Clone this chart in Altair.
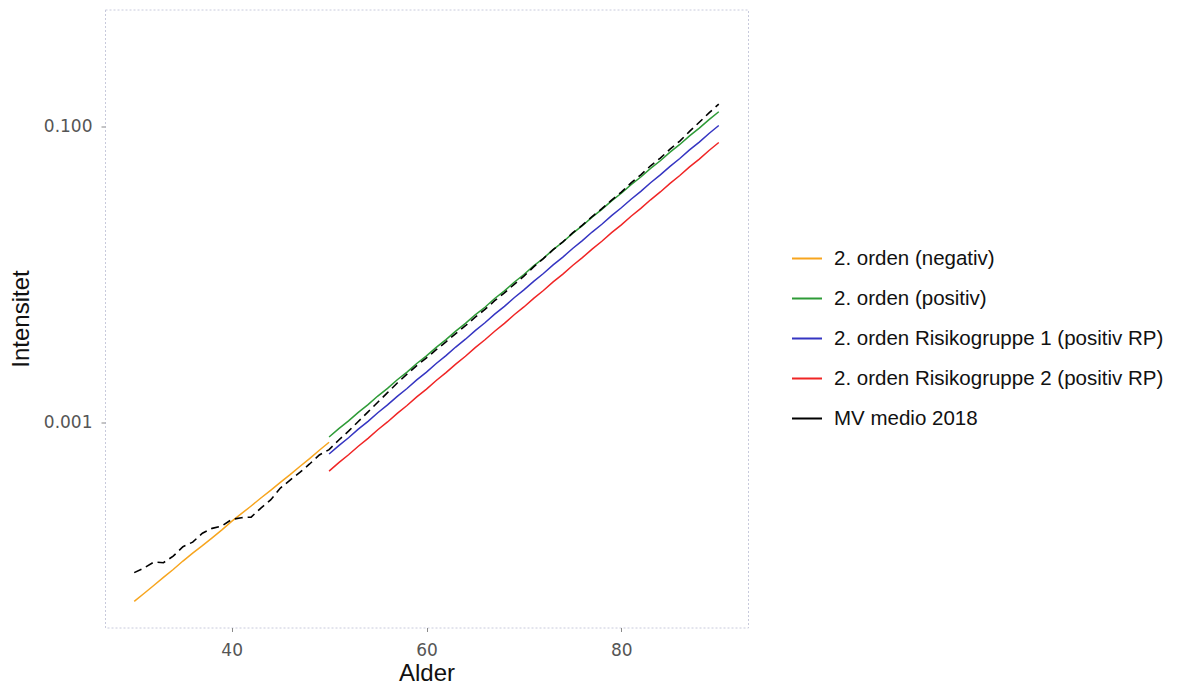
import altair as alt
import pandas as pd

# ---- data (log10 of intensity, one value per age) ----
ages_orange = list(range(30, 51))
log_orange = [-4.205, -4.152, -4.098, -4.043, -3.990, -3.933, -3.879, -3.829, -3.776, -3.722,
              -3.665, -3.613, -3.561, -3.507, -3.455, -3.401, -3.349, -3.294, -3.241, -3.184,
              -3.130]

ages_pos = list(range(50, 91))
log_green = [-3.095, -3.038, -2.986, -2.928, -2.876, -2.818, -2.766, -2.708, -2.656, -2.598,
             -2.547, -2.489, -2.437, -2.379, -2.327, -2.269, -2.218, -2.159, -2.107, -2.049,
             -1.997, -1.939, -1.887, -1.829, -1.777, -1.719, -1.667, -1.609, -1.557, -1.499,
             -1.448, -1.390, -1.338, -1.280, -1.228, -1.170, -1.118, -1.060, -1.008, -0.950,
             -0.897]
log_blue = [-3.210, -3.153, -3.100, -3.042, -2.989, -2.931, -2.878, -2.820, -2.767, -2.709,
            -2.656, -2.598, -2.545, -2.487, -2.434, -2.376, -2.323, -2.265, -2.212, -2.154,
            -2.101, -2.043, -1.990, -1.932, -1.879, -1.821, -1.768, -1.710, -1.657, -1.599,
            -1.546, -1.488, -1.435, -1.377, -1.324, -1.266, -1.213, -1.155, -1.102, -1.044,
            -0.990]
log_red = [-3.325, -3.268, -3.215, -3.157, -3.104, -3.046, -2.993, -2.935, -2.882, -2.824,
           -2.771, -2.713, -2.660, -2.602, -2.549, -2.491, -2.438, -2.380, -2.327, -2.269,
           -2.216, -2.158, -2.105, -2.047, -1.994, -1.936, -1.883, -1.825, -1.772, -1.714,
           -1.661, -1.603, -1.550, -1.492, -1.439, -1.381, -1.328, -1.270, -1.217, -1.159,
           -1.105]

ages_mv = list(range(30, 91))
log_mv = [-4.011, -3.980, -3.940, -3.944, -3.900, -3.836, -3.805, -3.745, -3.712, -3.696,
          -3.652, -3.640, -3.636, -3.575, -3.520, -3.440, -3.386, -3.334, -3.277, -3.216,
          -3.180, -3.115, -3.055, -2.990, -2.925, -2.860, -2.795, -2.730, -2.670, -2.612,
          -2.560, -2.505, -2.452, -2.396, -2.343, -2.285, -2.233, -2.174, -2.121, -2.063,
          -2.008, -1.945, -1.889, -1.829, -1.776, -1.716, -1.663, -1.605, -1.552, -1.494,
          -1.440, -1.378, -1.323, -1.262, -1.210, -1.150, -1.095, -1.030, -0.968, -0.905,
          -0.845]

series_names = ["2. orden (negativ)", "2. orden (positiv)",
                "2. orden Risikogruppe 1 (positiv RP)",
                "2. orden Risikogruppe 2 (positiv RP)", "MV medio 2018"]
series_colors = ["#F7A51E", "#2E9B37", "#3535C2", "#F02525", "#000000"]

x_ticks = [40, 60, 80]
y_ticks = [0.001, 0.1]

rows = []
for name, ages, logs in zip(series_names,
                            [ages_orange, ages_pos, ages_pos, ages_pos, ages_mv],
                            [log_orange, log_green, log_blue, log_red, log_mv]):
    for a, l in zip(ages, logs):
        rows.append({"Alder": a, "Intensitet": 10 ** l, "serie": name})
df = pd.DataFrame(rows)

x_enc = alt.X("Alder:Q",
              scale=alt.Scale(domain=[27, 93], nice=False, zero=False),
              axis=alt.Axis(values=x_ticks, title="Alder", titleY=53, titleBaseline="alphabetic",
                            labelPadding=11))
y_enc = alt.Y("Intensitet:Q",
              scale=alt.Scale(type="log", domain=[4.15e-5, 0.622], nice=False),
              axis=alt.Axis(values=y_ticks, format=".3f", title="Intensitet",
                            titleX=-77, titleY=309, titleBaseline="alphabetic", titleAngle=270,
                            labelPadding=9))
color_enc = alt.Color("serie:N",
                      scale=alt.Scale(domain=series_names, range=series_colors),
                      legend=alt.Legend(title=None, orient="none", legendX=686, legendY=233,
                                        symbolType="stroke", symbolSize=900,
                                        symbolStrokeWidth=2, symbolDash=[1, 0],
                                        labelFontSize=20.5, labelFont="Liberation Sans",
                                        labelColor="#111111", labelOffset=11,
                                        rowPadding=13, padding=0, labelLimit=500))

solid = alt.Chart(df).transform_filter(alt.datum.serie != "MV medio 2018").mark_line(
    strokeWidth=1.5).encode(x=x_enc, y=y_enc, color=color_enc)
dashed = alt.Chart(df).transform_filter(alt.datum.serie == "MV medio 2018").mark_line(
    strokeWidth=1.6, strokeDash=[8, 5]).encode(x=x_enc, y=y_enc, color=color_enc)

chart = alt.layer(solid, dashed).properties(
    width=643, height=618,
    autosize=alt.AutoSizeParams(type="none"),
    padding={"left": 97, "top": 1.5, "right": 420, "bottom": 58},
    background="white",
).configure_view(
    stroke="#c8cadc", strokeDash=[2, 2], strokeWidth=1
).configure_axis(
    grid=False, domain=False, tickColor="#8a8a8a", tickSize=4,
    labelFont="DejaVu Sans", labelFontSize=17, labelColor="#555555",
    titleFont="Liberation Sans", titleFontSize=24, titleFontWeight="normal",
    titleColor="#111111"
)

chart.save("out.html", embed_options={"renderer": "svg", "actions": False})
